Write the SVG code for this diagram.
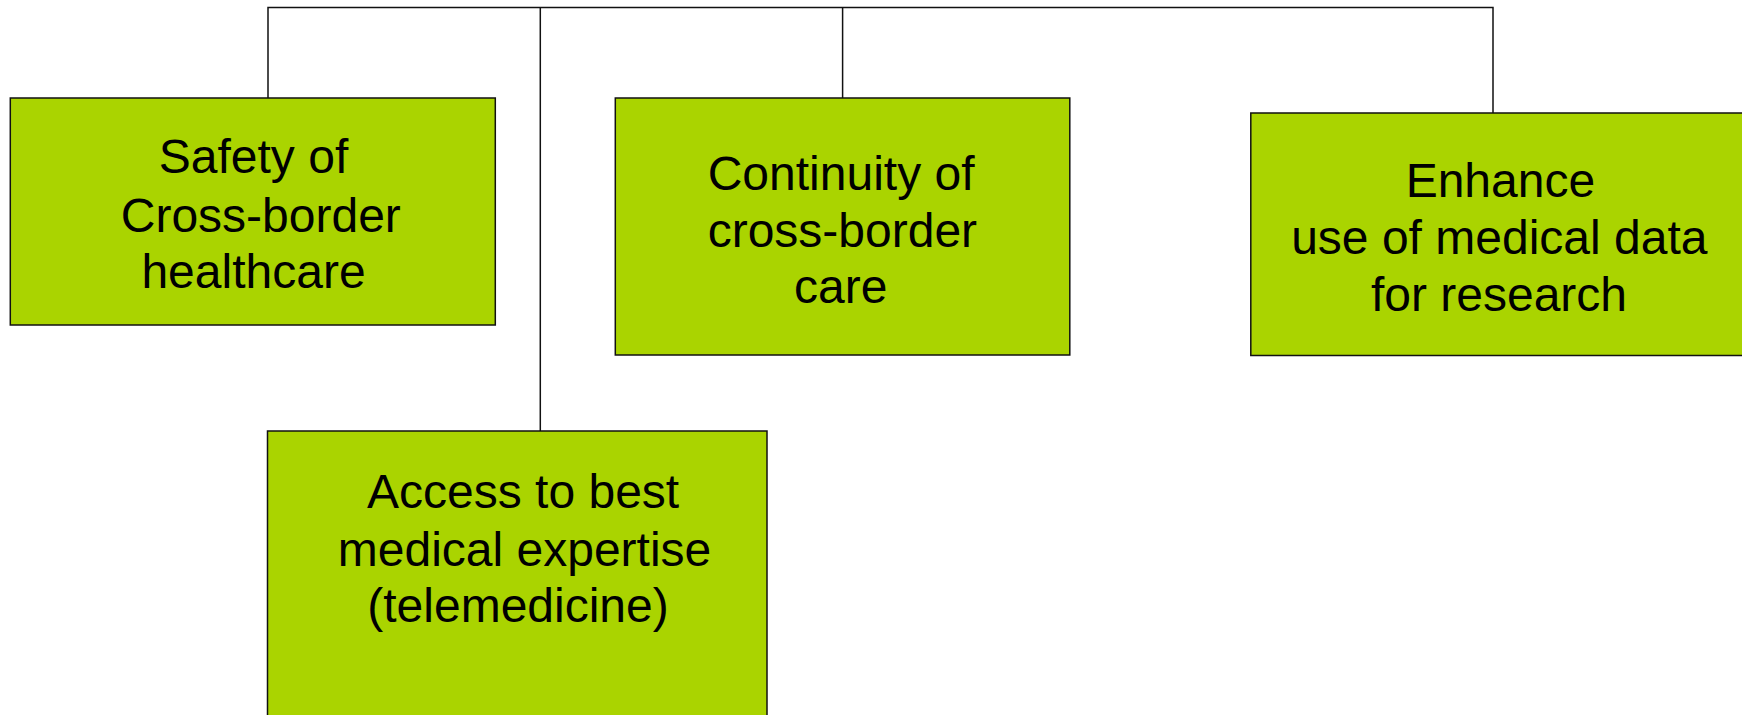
<svg xmlns="http://www.w3.org/2000/svg" width="1742" height="715" viewBox="0 0 1742 715">
<style>
.box{fill:#AAD400;stroke:#111;stroke-width:1.5}
.t{font-family:"Liberation Sans",Arial,sans-serif;font-size:48px;fill:#000;text-anchor:middle}
.line{stroke:#111;stroke-width:1.5;fill:none}
</style>
<rect width="1742" height="715" fill="#fff"/>
<g id="connectors">
<path class="line" d="M268 98 V7.5 H1493 V113"/>
<path class="line" d="M540.3 7.5 V431"/>
<path class="line" d="M842.6 7.5 V98"/>
</g>
<g id="safety">
<rect class="box" x="10.3" y="98" width="485" height="227"/>
<text class="t"><tspan x="253.5" y="173">Safety of</tspan><tspan x="260.8" y="231.5">Cross-border</tspan><tspan x="253.5" y="287.5">healthcare</tspan></text>
</g>
<g id="continuity">
<rect class="box" x="615.3" y="98" width="454.5" height="257"/>
<text class="t"><tspan x="841.1" y="190">Continuity of</tspan><tspan x="842.4" y="246.5">cross-border</tspan><tspan x="840.7" y="303.3">care</tspan></text>
</g>
<g id="enhance">
<rect class="box" x="1250.8" y="113" width="500" height="242.5"/>
<text class="t"><tspan x="1500.4" y="196.5">Enhance</tspan><tspan x="1499.3" y="253.5">use of medical data</tspan><tspan x="1499" y="311">for research</tspan></text>
</g>
<g id="access">
<rect class="box" x="267.5" y="431" width="499.5" height="300"/>
<text class="t"><tspan x="523.1" y="508.3">Access to best</tspan><tspan x="524.5" y="565.7">medical expertise</tspan><tspan x="518" y="621.7">(telemedicine)</tspan></text>
</g>
</svg>
